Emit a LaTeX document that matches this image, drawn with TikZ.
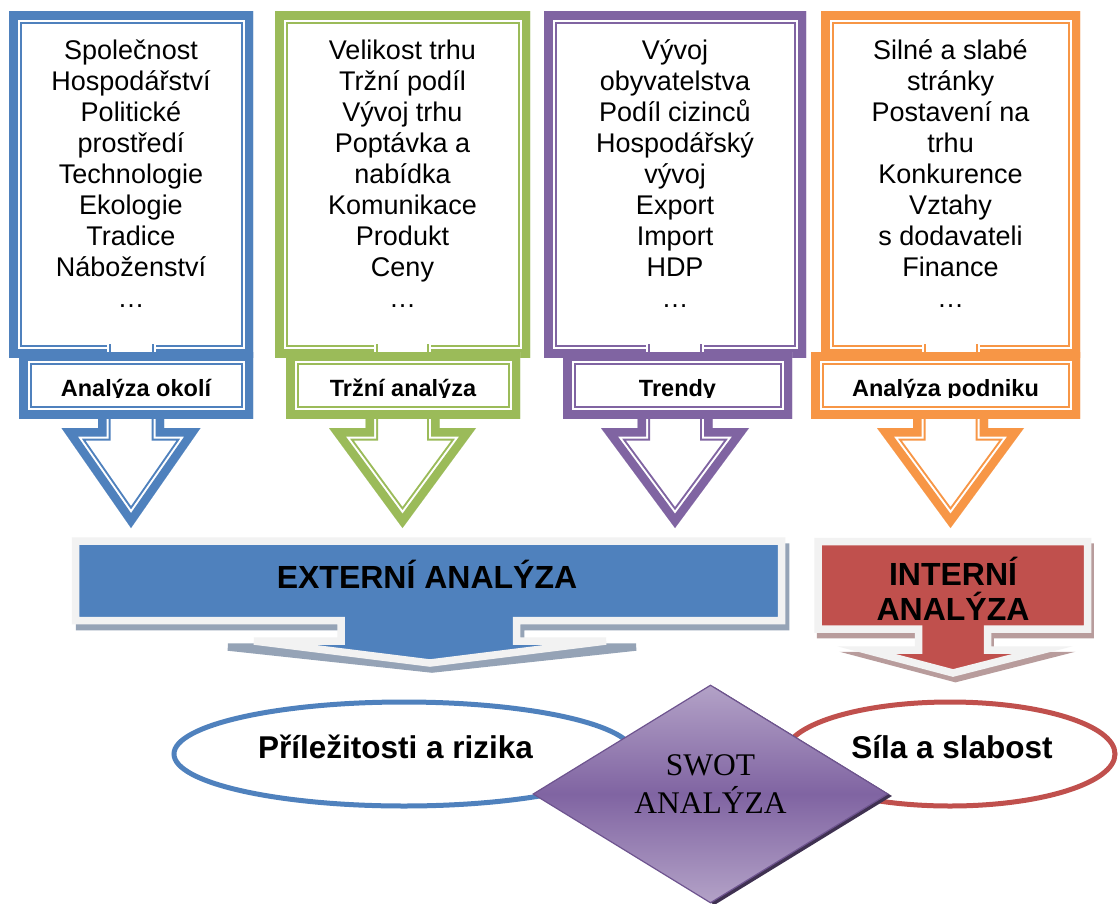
\documentclass[tikz,border=0pt]{standalone}
\usepackage{fontspec}
\setmainfont{Liberation Sans}
\newfontfamily\swotserif{Liberation Serif}
\usetikzlibrary{shapes.geometric}
\definecolor{cblue}{HTML}{4F81BD}
\definecolor{cgreen}{HTML}{9BBB59}
\definecolor{cpurple}{HTML}{8064A2}
\definecolor{corange}{HTML}{F79646}
\definecolor{cred}{HTML}{C0504D}
\definecolor{framegray}{HTML}{F2F2F2}
\definecolor{extshadow}{HTML}{95A3B6}
\definecolor{intshadow}{HTML}{B89C9C}
\definecolor{swotlight}{HTML}{B3A2C7}
\definecolor{swotmid}{HTML}{8064A2}
\definecolor{swotborder}{HTML}{6E548F}
\definecolor{swotshadow}{HTML}{3F3151}

% compound (thick-thin) border drawn inside a closed path
\newcommand{\dblframe}[2]{%
  \begin{scope}
    \clip #1;
    \fill[white] #1;
    \draw[#2, line width=25pt] #1;
    \draw[white, line width=21pt] #1;
    \draw[#2, line width=17pt] #1;
  \end{scope}}

% one column: upper box, arrow, label box
% #1,#2 upper box left/right; #3,#4 label left/right; #5 shaft half; #6 head half; #7 colour
\newcommand{\colframe}[7]{%
  \pgfmathsetmacro\cc{(#1+#2)/2}%
  \dblframe{(\cc-#5,300) -- (\cc-#5,428) -- (\cc-#6,428) -- (\cc,528) -- (\cc+#6,428) -- (\cc+#5,428) -- (\cc+#5,300) -- cycle}{#7}%
  \dblframe{(#1,12) rectangle (#2,357)}{#7}%
  \fill[white] (\cc-#5+8.5,344.3) rectangle (\cc+#5-8.5,352.2);%
  \draw[#7, line width=2pt] (\cc-#5+11.5,344.3) -- (\cc-#5+11.5,352.2) (\cc+#5-11.5,344.3) -- (\cc+#5-11.5,352.2);%
  \dblframe{(#3,352) rectangle (#4,418)}{#7}%
}

\begin{document}
\begin{tikzpicture}[x=1pt,y=-1pt,
  coltext/.style={anchor=north, inner sep=0pt, align=center, font=\fontsize{27}{31}\selectfont},
  labtext/.style={anchor=base, inner sep=0pt, font=\bfseries\fontsize{23.5}{28}\selectfont},
  bigtext/.style={inner sep=0pt, align=center, font=\bfseries\fontsize{32}{35}\selectfont},
  elltext/.style={anchor=base, inner sep=0pt, font=\bfseries\fontsize{31.5}{35}\selectfont},
  swotshape/.style={diamond, aspect=1.63, minimum width=355pt, minimum height=218pt, inner sep=0pt},
  ellshape/.style={ellipse, line width=5pt, minimum height=104pt, inner sep=0pt, fill=white}
]
\useasboundingbox[fill=white] (0,0) rectangle (1118,904);

% ---------- columns ----------
\colframe{9}{253}{19}{253}{33}{69.5}{cblue}
\colframe{275}{530}{286}{520}{37}{73.5}{cgreen}
\colframe{544}{806}{563}{792}{37.5}{74}{cpurple}
\colframe{821}{1080}{811}{1080}{37.5}{73.5}{corange}

\node[coltext] (t1) at (131,38) {\rule{0pt}{21pt}Společnost\\Hospodářství\\Politické\\prostředí\\Technologie\\Ekologie\\Tradice\\Náboženství\\…};
\node[coltext] (t2) at (402.5,38) {\rule{0pt}{21pt}Velikost trhu\\Tržní podíl\\Vývoj trhu\\Poptávka a\\nabídka\\Komunikace\\Produkt\\Ceny\\…};
\node[coltext] (t3) at (675,38) {\rule{0pt}{21pt}Vývoj\\obyvatelstva\\Podíl cizinců\\Hospodářský\\vývoj\\Export\\Import\\HDP\\…};
\node[coltext] (t4) at (950.5,38) {\rule{0pt}{21pt}Silné a slabé\\stránky\\Postavení na\\trhu\\Konkurence\\Vztahy\\s dodavateli\\Finance\\…};

\begin{scope}\clip (19,352) rectangle (253,397.5);
  \node[labtext] (l1) at (136,396) {Analýza okolí};\end{scope}
\begin{scope}\clip (286,352) rectangle (520,397.5);
  \node[labtext] (l2) at (403,396) {Tržní analýza};\end{scope}
\begin{scope}\clip (563,352) rectangle (792,397.5);
  \node[labtext] (l3) at (677.5,396) {Trendy};\end{scope}
\begin{scope}\clip (811,352) rectangle (1080,397.5);
  \node[labtext] (l4) at (945.5,396) {Analýza podniku};\end{scope}

% ---------- EXTERNÍ ANALÝZA ----------
\filldraw[extshadow, line width=7.5pt] (79.5,547) -- (785.5,547) -- (785.5,626.5) -- (520.5,626.5) -- (520.5,647) -- (636,647) -- (432,669) -- (228,647) -- (345,647) -- (345,626.5) -- (79.5,626.5) -- cycle;
\filldraw[fill=cblue, draw=framegray, line width=7.5pt] (75.5,541) -- (781.5,541) -- (781.5,620.5) -- (516.5,620.5) -- (516.5,641) -- (606,641) -- (430,663) -- (254,641) -- (341,641) -- (341,620.5) -- (75.5,620.5) -- cycle;
\node[bigtext, anchor=base] (ext) at (427,588) {EXTERNÍ ANALÝZA};

% ---------- INTERNÍ ANALÝZA ----------
\filldraw[intshadow, line width=7.5pt] (820.5,547) -- (1090,547) -- (1090,634.5) -- (990,634.5) -- (990,655.5) -- (1045.5,655.5) -- (955.5,678.5) -- (868.5,655.5) -- (921,655.5) -- (921,634.5) -- (820.5,634.5) -- cycle;
\filldraw[fill=cred, draw=framegray, line width=7.5pt] (818,541.5) -- (1087.5,541.5) -- (1087.5,629) -- (987.5,629) -- (987.5,650) -- (1043,650) -- (953,673) -- (866,650) -- (918.5,650) -- (918.5,629) -- (818,629) -- cycle;
\node[bigtext, anchor=north] (int) at (953,554) {\rule{0pt}{31pt}INTERNÍ\\ANALÝZA};

% ---------- ellipses ----------
\node[ellshape, draw=cblue, minimum width=460pt] (opp) at (404,754) {};
\node[ellshape, draw=cred, minimum width=330pt] (sw) at (950,754) {};
\node[elltext] (oppt) at (395.5,758) {Příležitosti a rizika};
\node[elltext] (swt) at (952,758) {Síla a slabost};

% ---------- SWOT diamond ----------
\node[swotshape, fill=swotshadow] (swotsh) at (714.5,796) {};
\node[swotshape, top color=swotlight, bottom color=swotlight, middle color=swotmid, draw=swotborder, line width=1.2pt] (swot) at (710.5,794) {};
\node[anchor=north, inner sep=0pt, align=center, font=\swotserif\fontsize{31.5}{38}\selectfont] (swott) at (710.5,751) {\rule{0pt}{24pt}SWOT\\ANALÝZA};
\end{tikzpicture}
\end{document}
